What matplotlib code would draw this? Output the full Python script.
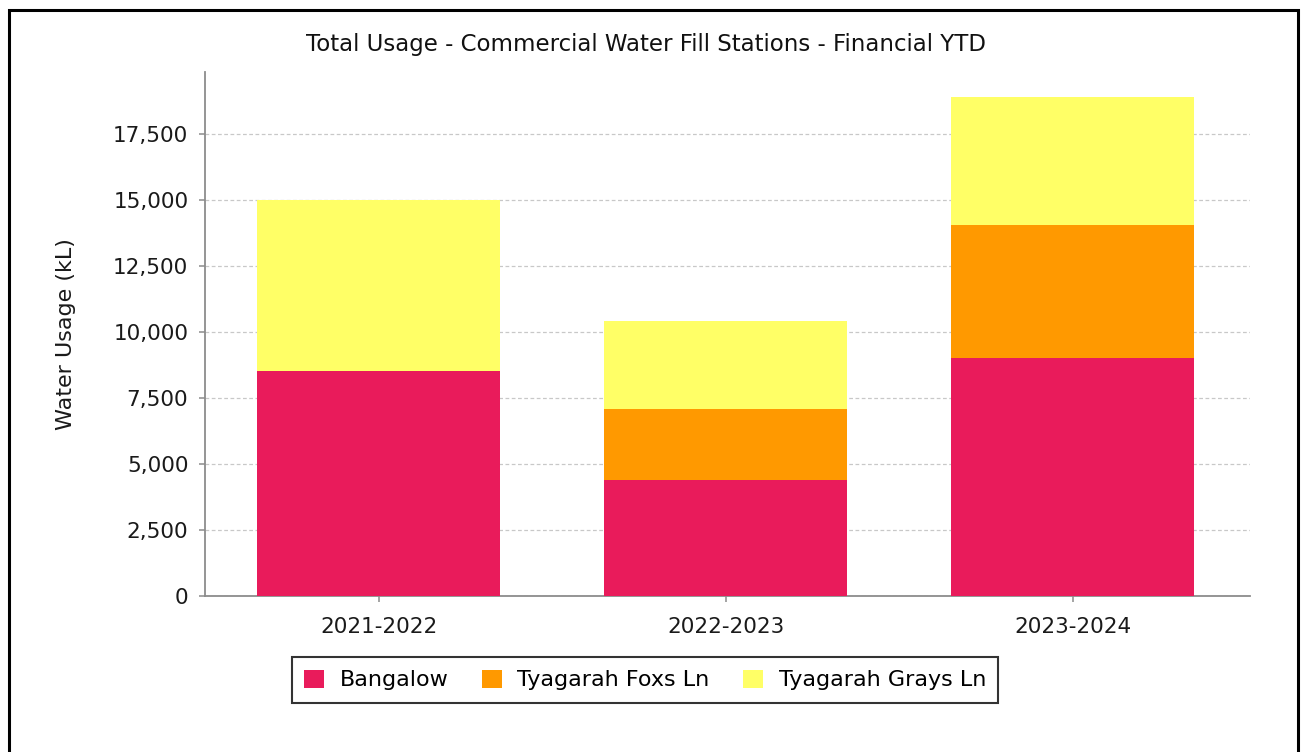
import matplotlib
matplotlib.use("Agg")
from matplotlib import pyplot as plt
from matplotlib.patches import Rectangle
import matplotlib.ticker as ticker
import numpy as np

## Data
years = ["2021-2022", "2022-2023", "2023-2024"]
bangalow = [8520, 4380, 8990]
foxs_ln = [0, 2700, 5060]
grays_ln = [6480, 3340, 4840]

series_names = ["Bangalow", "Tyagarah Foxs Ln", "Tyagarah Grays Ln"]
colors = ["#E91B5B", "#FF9900", "#FFFF66"]

## Plot
fig = plt.figure(figsize=(13.01, 7.52), dpi=100)
ax = fig.add_axes([205 / 1301, 1 - 596 / 752, (1250 - 205) / 1301, (596 - 72) / 752])

x = np.arange(len(years))
bottom = np.zeros(len(years))
for vals, name, col in zip([bangalow, foxs_ln, grays_ln], series_names, colors):
    ax.bar(x, vals, width=0.7, bottom=bottom, color=col, label=name, linewidth=0, zorder=3)
    bottom += np.array(vals)

ax.set_xlim(-0.5, 2.51)
ax.set_ylim(0, 19830)
ax.set_xticks(x)
ax.set_xticklabels(years)
ax.yaxis.set_major_locator(ticker.MultipleLocator(2500))
ax.yaxis.set_major_formatter(ticker.FuncFormatter(lambda v, p: f"{int(v):,}"))

ax.grid(axis="y", color="#c8c8c8", linestyle=(0, (3, 2)), linewidth=0.9, zorder=0)
for s in ["top", "right"]:
    ax.spines[s].set_visible(False)
for s in ["left", "bottom"]:
    ax.spines[s].set_color("#8c8c8c")
    ax.spines[s].set_linewidth(1.3)
ax.tick_params(axis="both", colors="#8c8c8c", length=4, width=1.1, labelsize=15.5,
               labelcolor="#1a1a1a")
ax.tick_params(axis="y", pad=8)
ax.tick_params(axis="x", pad=11)
ax.set_ylabel("Water Usage (kL)", fontsize=16, color="#1a1a1a", labelpad=27)

fig.text(646 / 1301, 1 - 44 / 752, "Total Usage - Commercial Water Fill Stations - Financial YTD",
         ha="center", va="center", fontsize=16.5, fontweight="medium",
         family=["DejaVu Sans"], color="#111111")

leg = fig.legend(loc="center", bbox_to_anchor=(645 / 1301, 1 - 680 / 752), ncol=3,
                 fontsize=16, frameon=True, fancybox=False, handlelength=0.9,
                 handleheight=0.9, handletextpad=0.7, columnspacing=1.5,
                 borderpad=0.55, borderaxespad=0, edgecolor="black")
leg.get_frame().set_linewidth(1.5)

## outer border (no bottom edge)
fig.add_artist(Rectangle((8.5 / 1301, -0.05), (1297.5 - 8.5) / 1301, 1 - 9.5 / 752 + 0.05,
                         transform=fig.transFigure, fill=False, edgecolor="black",
                         linewidth=2.2))

fig.savefig("out.png", dpi=100)
